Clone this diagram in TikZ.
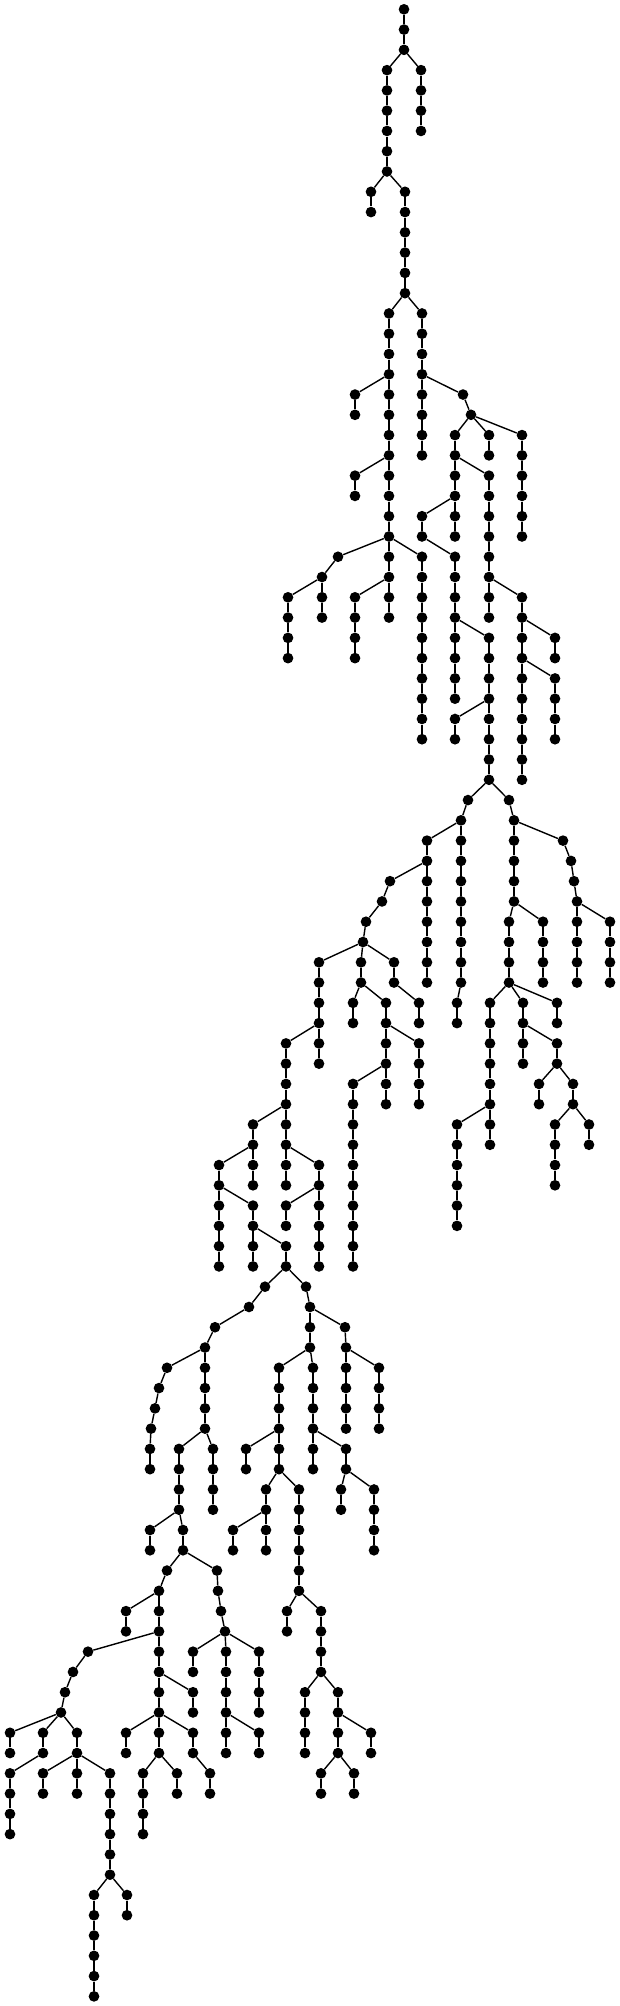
\documentclass[tikz,border=0pt]{standalone}
\usepackage{tikz}
\tikzset{
  dotnode/.style={circle,fill=black,draw=none,inner sep=0pt,minimum size=3.2mm},
  treelink/.style={draw=black,line width=0.42mm}
}
% nodes #1 (x) on levels #2..#3, hung below the node of x #4 one level up
\newcommand{\dotchain}[4]{%
  \foreach \lev in {#2,...,#3}{%
    \pgfmathtruncatemacro{\dcPrev}{\lev-1}%
    \node[dotnode] (v\lev-#1) at (#1,\lev) {};
    \ifnum\lev=#2\relax
      \draw[treelink] (v\dcPrev-#4) -- (v\lev-#1);
    \else
      \draw[treelink] (v\dcPrev-#1) -- (v\lev-#1);
    \fi
  }%
}
\begin{document}
\begin{tikzpicture}[x=0.3mm,y=-6.0828mm]
  \useasboundingbox (0,-0.4587) rectangle (620,98.476);
  \node[dotnode] (v0-404) at (404,0) {};
  \dotchain{404}{1}{2}{404}
  \dotchain{387}{3}{8}{404}
  \dotchain{421}{3}{6}{404}
  \dotchain{371}{9}{10}{387}
  \dotchain{405}{9}{14}{387}
  \dotchain{389}{15}{26}{405}
  \dotchain{355}{19}{20}{389}
  \dotchain{355}{23}{24}{389}
  \dotchain{422}{15}{22}{405}
  \dotchain{463}{19}{19}{422}
  \dotchain{471}{20}{20}{463}
  \dotchain{455}{21}{26}{471}
  \dotchain{489}{21}{22}{471}
  \dotchain{522}{21}{26}{471}
  \dotchain{489}{23}{30}{455}
  \dotchain{522}{29}{38}{489}
  \dotchain{555}{31}{32}{522}
  \dotchain{555}{33}{36}{522}
  \dotchain{422}{25}{26}{455}
  \dotchain{455}{27}{34}{422}
  \dotchain{489}{31}{38}{455}
  \dotchain{455}{35}{36}{489}
  \dotchain{338}{27}{27}{389}
  \dotchain{322}{28}{28}{338}
  \dotchain{288}{29}{32}{322}
  \dotchain{322}{29}{30}{322}
  \dotchain{389}{27}{30}{389}
  \dotchain{355}{29}{32}{389}
  \dotchain{422}{27}{36}{389}
  % middle part
  \dotchain{468}{39}{39}{489}
  \dotchain{461}{40}{48}{468}
  \dotchain{457}{49}{50}{461}
  \dotchain{427}{41}{48}{461}
  \dotchain{390}{43}{43}{427}
  \dotchain{382}{44}{44}{390}
  \dotchain{366}{45}{45}{382}
  \dotchain{363}{46}{46}{366}
  \dotchain{319}{47}{52}{363}
  \dotchain{361}{47}{48}{363}
  \dotchain{353}{49}{50}{361}
  \dotchain{386}{49}{54}{361}
  \dotchain{419}{51}{54}{386}
  \dotchain{353}{53}{62}{386}
  \dotchain{394}{47}{48}{363}
  \dotchain{419}{49}{50}{394}
  \dotchain{509}{39}{39}{489}
  \dotchain{514}{40}{44}{509}
  \dotchain{563}{41}{41}{514}
  \dotchain{571}{42}{42}{563}
  \dotchain{574}{43}{43}{571}
  \dotchain{577}{44}{48}{574}
  \dotchain{610}{45}{48}{577}
  \dotchain{543}{45}{48}{514}
  \dotchain{509}{45}{48}{514}
  \dotchain{490}{49}{56}{509}
  \dotchain{457}{55}{60}{490}
  \dotchain{523}{49}{52}{509}
  \dotchain{557}{49}{50}{509}
  \dotchain{557}{51}{52}{523}
  \dotchain{539}{53}{54}{557}
  \dotchain{573}{53}{54}{557}
  \dotchain{555}{55}{58}{573}
  \dotchain{589}{55}{56}{573}
  \dotchain{286}{51}{58}{319}
  \dotchain{253}{55}{58}{286}
  \dotchain{219}{57}{62}{253}
  \dotchain{253}{59}{62}{219}
  \dotchain{286}{61}{62}{253}
  \dotchain{319}{57}{62}{286}
  \dotchain{286}{59}{60}{319}
  % lower part
  \dotchain{265}{63}{63}{286}
  \dotchain{249}{64}{64}{265}
  \dotchain{215}{65}{65}{249}
  \dotchain{205}{66}{70}{215}
  \dotchain{167}{67}{67}{205}
  \dotchain{159}{68}{68}{167}
  \dotchain{155}{69}{69}{159}
  \dotchain{151}{70}{70}{155}
  \dotchain{150}{71}{72}{151}
  \dotchain{179}{71}{74}{205}
  \dotchain{213}{71}{74}{205}
  \dotchain{306}{63}{63}{286}
  \dotchain{310}{64}{66}{306}
  \dotchain{345}{65}{65}{310}
  \dotchain{346}{66}{70}{345}
  \dotchain{379}{67}{70}{346}
  \dotchain{279}{67}{72}{310}
  \dotchain{246}{71}{72}{279}
  \dotchain{313}{67}{72}{310}
  \dotchain{346}{71}{72}{313}
  \dotchain{266}{73}{76}{279}
  \dotchain{233}{75}{76}{266}
  \dotchain{299}{73}{78}{279}
  \dotchain{341}{73}{74}{346}
  \dotchain{374}{73}{76}{346}
  \dotchain{150}{75}{76}{179}
  \dotchain{183}{75}{76}{179}
  \dotchain{167}{77}{77}{183}
  \dotchain{159}{78}{86}{167}
  \dotchain{126}{79}{80}{159}
  \dotchain{88}{81}{81}{159}
  \dotchain{73}{82}{82}{88}
  \dotchain{65}{83}{83}{73}
  \dotchain{61}{84}{84}{65}
  \dotchain{193}{83}{84}{159}
  \dotchain{217}{77}{77}{183}
  \dotchain{218}{78}{78}{217}
  \dotchain{221}{79}{79}{218}
  \dotchain{225}{80}{80}{221}
  \dotchain{193}{81}{82}{225}
  \dotchain{226}{81}{86}{225}
  \dotchain{259}{81}{84}{225}
  \dotchain{259}{85}{86}{226}
  \dotchain{287}{79}{80}{299}
  \dotchain{321}{79}{82}{299}
  \dotchain{305}{83}{86}{321}
  \dotchain{338}{83}{86}{321}
  \dotchain{371}{85}{86}{338}
  \dotchain{321}{87}{88}{338}
  \dotchain{354}{87}{88}{338}
  \dotchain{126}{85}{86}{159}
  \dotchain{193}{85}{86}{159}
  \dotchain{210}{87}{88}{193}
  \dotchain{143}{87}{90}{159}
  \dotchain{177}{87}{88}{159}
  \dotchain{10}{85}{86}{61}
  \dotchain{43}{85}{86}{61}
  \dotchain{10}{87}{90}{43}
  \dotchain{77}{85}{86}{61}
  \dotchain{43}{87}{88}{77}
  \dotchain{77}{87}{88}{77}
  \dotchain{110}{87}{92}{77}
  \dotchain{94}{93}{98}{110}
  \dotchain{127}{93}{94}{110}
\end{tikzpicture}
\end{document}
